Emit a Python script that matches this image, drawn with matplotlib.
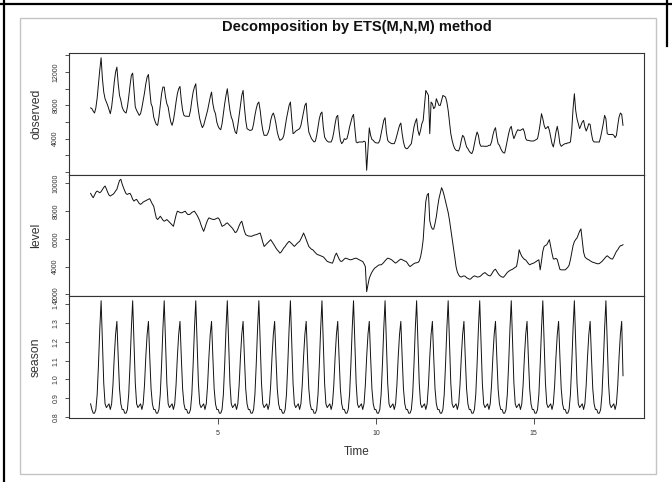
import numpy as np
import matplotlib
matplotlib.use("Agg")
import matplotlib.pyplot as plt
from matplotlib.lines import Line2D
from matplotlib.patches import Rectangle

# hourly data, frequency 24, first point is hour 23 of day 0
freq = 24
start = 1 - 1 / freq

observed = [
    7700,
    7600, 7300, 7080, 7700, 8900, 10600, 12300, 13720, 11200, 9600, 8800, 8400, 8000, 7500, 7000, 7800, 9200, 10800, 12000, 12600, 10600, 9200, 8600, 7800,
    7400, 7200, 7080, 7800, 9000, 10400, 11600, 11880, 9800, 7800, 7400, 7100, 6800, 7000, 7700, 8600, 9500, 10600, 11400, 11720, 9800, 8200, 7800, 6600,
    6100, 5700, 5600, 6600, 8000, 9400, 10200, 10200, 9000, 8200, 7800, 6800, 6000, 5600, 6200, 7200, 8400, 9400, 10000, 10280, 8600, 7400, 6800, 6700,
    6700, 6680, 6680, 7400, 8600, 9600, 10200, 10600, 8600, 7400, 6400, 5800, 5320, 5600, 6200, 6800, 7400, 8200, 9000, 9600, 8200, 7400, 7000, 6000,
    5500, 5200, 5080, 5800, 7000, 8200, 9200, 10000, 8600, 7400, 6600, 6200, 5400, 4800, 4600, 5600, 6800, 8000, 9200, 9800, 7800, 6200, 5200, 5100,
    5000, 5000, 5100, 5800, 6800, 7600, 8200, 8400, 7400, 6000, 5000, 4400, 4400, 4400, 4700, 5200, 6200, 6800, 7080, 6600, 5800, 4800, 4200, 3800,
    3900, 4000, 4400, 5400, 6400, 7200, 8000, 8400, 6400, 4600, 4700, 4900, 5000, 5100, 5200, 5600, 6400, 7200, 8000, 8280, 6200, 4800, 4400, 4000,
    3800, 3600, 3700, 4400, 5400, 6400, 7000, 7200, 5400, 4200, 3900, 3700, 3600, 3600, 3600, 4000, 4800, 5800, 6600, 6800, 5000, 3800, 3400, 3600,
    4000, 3900, 4000, 4600, 5400, 6000, 6600, 6920, 5200, 3600, 3500, 3600, 3600, 3600, 3600, 3700, 3600, 200, 2700, 5300, 4400, 3900, 3800, 3600,
    3500, 3480, 3480, 3800, 4600, 5400, 6200, 6520, 4800, 3800, 3600, 3500, 3400, 3400, 3400, 3800, 4400, 5000, 5600, 5880, 4600, 3600, 3000, 2800,
    2800, 3000, 3200, 3400, 4400, 5400, 6000, 6400, 5000, 4400, 5000, 5800, 6200, 8000, 9800, 9500, 9200, 4600, 8400, 8200, 7600, 7800, 8800, 8400,
    8000, 8000, 8600, 9200, 9100, 9000, 8400, 7400, 6000, 4600, 3800, 3200, 2800, 2600, 2560, 2520, 3000, 3800, 4400, 4200, 3600, 3000, 2800, 2500,
    2300, 2200, 2600, 3400, 4200, 4800, 4400, 3400, 3080, 3100, 3100, 3080, 3080, 3100, 3200, 3200, 3600, 4400, 5000, 5320, 4200, 3400, 3200, 2800,
    2500, 2300, 2280, 3000, 3800, 4600, 5200, 5480, 4600, 4000, 4400, 4800, 5080, 5000, 5000, 5100, 5200, 4800, 4000, 3800, 3800, 3750, 3720, 3720,
    3720, 3800, 3900, 4000, 4800, 5800, 7000, 6400, 5600, 5200, 5300, 5480, 5000, 4200, 3400, 3000, 3800, 4800, 5480, 4600, 3400, 3080, 3200, 3320,
    3400, 3400, 3500, 3500, 3600, 5000, 7600, 9400, 7400, 6400, 5800, 5200, 5600, 6000, 6200, 5400, 4920, 5300, 5800, 5700, 4600, 3800, 3600, 3600,
    3600, 3600, 3600, 4200, 5000, 5800, 6800, 6400, 4600, 4500, 4500, 4500, 4520, 4400, 4120, 4400, 5600, 6600, 7080, 6920, 5600,
]

level = [
    9275,
    9100, 8960, 9150, 9350, 9440, 9380, 9320, 9400, 9550, 9700, 9805, 9600, 9350, 9150, 9080, 9150, 9200, 9300, 9450, 9565, 9900, 10200, 10290, 9950,
    9685, 9450, 9250, 9200, 9250, 9275, 9100, 8850, 8720, 8800, 8840, 8700, 8550, 8480, 8550, 8650, 8700, 8750, 8800, 8850, 8890, 8700, 8500, 8355,
    7900, 7500, 7390, 7500, 7630, 7500, 7350, 7270, 7320, 7390, 7300, 7200, 7100, 7000, 6900, 7300, 7700, 7990, 7950, 7900, 7870, 7900, 7950, 7990,
    7850, 7750, 7750, 7800, 7900, 7950, 7990, 7850, 7700, 7510, 7300, 7000, 6750, 6540, 6800, 7100, 7350, 7510, 7470, 7430, 7400, 7390, 7430, 7480,
    7510, 7400, 7150, 6900, 6950, 7000, 7100, 7150, 7050, 6950, 6850, 6750, 6600, 6450, 6500, 6700, 6950, 7150, 7270, 6900, 6550, 6300, 6250, 6200,
    6200, 6180, 6200, 6250, 6280, 6300, 6340, 6380, 6420, 6100, 5750, 5450, 5550, 5650, 5750, 5850, 5940, 5800, 5650, 5500, 5335, 5200, 5100, 4970,
    5050, 5200, 5350, 5455, 5600, 5720, 5820, 5750, 5650, 5550, 5455, 5550, 5650, 5750, 5820, 6000, 6200, 6420, 6200, 5950, 5700, 5450, 5350, 5250,
    5215, 5100, 5000, 4900, 4850, 4820, 4780, 4740, 4700, 4600, 4480, 4370, 4340, 4300, 4270, 4250, 4500, 4800, 4970, 4750, 4550, 4400, 4370, 4450,
    4550, 4610, 4580, 4540, 4500, 4490, 4520, 4560, 4590, 4610, 4560, 4510, 4460, 4410, 4370, 4200, 4005, 2190, 2700, 3160, 3400, 3600, 3750, 3885,
    3950, 4030, 4100, 4130, 4130, 4200, 4300, 4420, 4520, 4610, 4580, 4540, 4490, 4400, 4320, 4250, 4320, 4400, 4480, 4540, 4500, 4450, 4400, 4370,
    4250, 4100, 4005, 4070, 4150, 4220, 4260, 4280, 4295, 4400, 4700, 5200, 5940, 7400, 8700, 9150, 9275, 7300, 6900, 6700, 6700, 7100, 7600, 8300,
    8900, 9300, 9685, 9450, 9100, 8700, 8300, 7900, 7350, 6700, 6050, 5455, 4700, 4000, 3600, 3400, 3280, 3250, 3300, 3330, 3300, 3200, 3150, 3100,
    3100, 3200, 3280, 3330, 3300, 3250, 3260, 3280, 3350, 3450, 3520, 3570, 3480, 3400, 3350, 3330, 3450, 3620, 3750, 3810, 3650, 3500, 3380, 3300,
    3250, 3230, 3330, 3450, 3580, 3660, 3720, 3770, 3810, 3880, 3950, 4005, 4500, 5215, 4950, 4750, 4620, 4520, 4480, 4350, 4220, 4130, 4180, 4220,
    4250, 4310, 4370, 4440, 4490, 3765, 4400, 5100, 5455, 5520, 5575, 5750, 5940, 5450, 4950, 4550, 4550, 4600, 4500, 4150, 3800, 3765, 3765, 3765,
    3765, 3850, 3950, 4100, 4500, 5000, 5500, 5800, 5950, 6060, 6300, 6550, 6715, 5900, 5050, 4700, 4600, 4530, 4490, 4420, 4360, 4310, 4295, 4250,
    4220, 4200, 4220, 4300, 4370, 4480, 4600, 4700, 4780, 4700, 4620, 4560, 4540, 4700, 4900, 5100, 5215, 5380, 5500, 5520, 5575,
]

season = [
    0.87,
    0.84, 0.82, 0.82, 0.84, 0.92, 1.08, 1.27, 1.42, 1.20, 0.98, 0.87, 0.85, 0.86, 0.87, 0.84, 0.87, 0.97, 1.12, 1.24, 1.31, 1.12, 0.95, 0.87, 0.84,
    0.84, 0.82, 0.82, 0.84, 0.92, 1.08, 1.27, 1.42, 1.20, 0.98, 0.87, 0.85, 0.86, 0.87, 0.84, 0.87, 0.97, 1.12, 1.24, 1.31, 1.12, 0.95, 0.87, 0.84,
    0.84, 0.82, 0.82, 0.84, 0.92, 1.08, 1.27, 1.42, 1.20, 0.98, 0.87, 0.85, 0.86, 0.87, 0.84, 0.87, 0.97, 1.12, 1.24, 1.31, 1.12, 0.95, 0.87, 0.84,
    0.84, 0.82, 0.82, 0.84, 0.92, 1.08, 1.27, 1.42, 1.20, 0.98, 0.87, 0.85, 0.86, 0.87, 0.84, 0.87, 0.97, 1.12, 1.24, 1.31, 1.12, 0.95, 0.87, 0.84,
    0.84, 0.82, 0.82, 0.84, 0.92, 1.08, 1.27, 1.42, 1.20, 0.98, 0.87, 0.85, 0.86, 0.87, 0.84, 0.87, 0.97, 1.12, 1.24, 1.31, 1.12, 0.95, 0.87, 0.84,
    0.84, 0.82, 0.82, 0.84, 0.92, 1.08, 1.27, 1.42, 1.20, 0.98, 0.87, 0.85, 0.86, 0.87, 0.84, 0.87, 0.97, 1.12, 1.24, 1.31, 1.12, 0.95, 0.87, 0.84,
    0.84, 0.82, 0.82, 0.84, 0.92, 1.08, 1.27, 1.42, 1.20, 0.98, 0.87, 0.85, 0.86, 0.87, 0.84, 0.87, 0.97, 1.12, 1.24, 1.31, 1.12, 0.95, 0.87, 0.84,
    0.84, 0.82, 0.82, 0.84, 0.92, 1.08, 1.27, 1.42, 1.20, 0.98, 0.87, 0.85, 0.86, 0.87, 0.84, 0.87, 0.97, 1.12, 1.24, 1.31, 1.12, 0.95, 0.87, 0.84,
    0.84, 0.82, 0.82, 0.84, 0.92, 1.08, 1.27, 1.42, 1.20, 0.98, 0.87, 0.85, 0.86, 0.87, 0.84, 0.87, 0.97, 1.12, 1.24, 1.31, 1.12, 0.95, 0.87, 0.84,
    0.84, 0.82, 0.82, 0.84, 0.92, 1.08, 1.27, 1.42, 1.20, 0.98, 0.87, 0.85, 0.86, 0.87, 0.84, 0.87, 0.97, 1.12, 1.24, 1.31, 1.12, 0.95, 0.87, 0.84,
    0.84, 0.82, 0.82, 0.84, 0.92, 1.08, 1.27, 1.42, 1.20, 0.98, 0.87, 0.85, 0.86, 0.87, 0.84, 0.87, 0.97, 1.12, 1.24, 1.31, 1.12, 0.95, 0.87, 0.84,
    0.84, 0.82, 0.82, 0.84, 0.92, 1.08, 1.27, 1.42, 1.20, 0.98, 0.87, 0.85, 0.86, 0.87, 0.84, 0.87, 0.97, 1.12, 1.24, 1.31, 1.12, 0.95, 0.87, 0.84,
    0.84, 0.82, 0.82, 0.84, 0.92, 1.08, 1.27, 1.42, 1.20, 0.98, 0.87, 0.85, 0.86, 0.87, 0.84, 0.87, 0.97, 1.12, 1.24, 1.31, 1.12, 0.95, 0.87, 0.84,
    0.84, 0.82, 0.82, 0.84, 0.92, 1.08, 1.27, 1.42, 1.20, 0.98, 0.87, 0.85, 0.86, 0.87, 0.84, 0.87, 0.97, 1.12, 1.24, 1.31, 1.12, 0.95, 0.87, 0.84,
    0.84, 0.82, 0.82, 0.84, 0.92, 1.08, 1.27, 1.42, 1.20, 0.98, 0.87, 0.85, 0.86, 0.87, 0.84, 0.87, 0.97, 1.12, 1.24, 1.31, 1.12, 0.95, 0.87, 0.84,
    0.84, 0.82, 0.82, 0.84, 0.92, 1.08, 1.27, 1.42, 1.20, 0.98, 0.87, 0.85, 0.86, 0.87, 0.84, 0.87, 0.97, 1.12, 1.24, 1.31, 1.12, 0.95, 0.87, 0.84,
    0.84, 0.82, 0.82, 0.84, 0.92, 1.08, 1.27, 1.42, 1.20, 0.98, 0.87, 0.85, 0.86, 0.87, 0.84, 0.87, 0.97, 1.12, 1.24, 1.31, 1.02,
]

panel_names = ["observed", "level", "season"]
obs_ticks = [0, 2000, 4000, 6000, 8000, 10000, 12000, 14000]
obs_tick_labels = ["", "", "4000", "", "8000", "", "12000", ""]
level_ticks = [2000, 4000, 6000, 8000, 10000]
level_tick_labels = ["2000", "4000", "6000", "8000", "10000"]
season_ticks = [0.8, 0.9, 1.0, 1.1, 1.2, 1.3, 1.4]
season_tick_labels = ["0.8", "0.9", "1.0", "1.1", "1.2", "1.3", "1.4"]
time_ticks = [5, 10, 15]
title = "Decomposition by ETS(M,N,M) method"

plt.rcParams["font.family"] = ["Liberation Sans", "DejaVu Sans"]

time = start + np.arange(len(observed)) / freq


def rlim(v):
    # R style 4% range extension
    lo, hi = min(v), max(v)
    pad = 0.04 * (hi - lo)
    return lo - pad, hi + pad


W, H = 672, 482
fig = plt.figure(figsize=(W / 100, H / 100), dpi=100)
fig.patch.set_facecolor("white")

# panel box in pixels
px_left, px_right = 69.3, 644.3
px_top, px_bottom = 53.3, 417.7
ph = (px_bottom - px_top) / 3
dark = "#333333"

series = [observed, level, season]
ticks = [obs_ticks, level_ticks, season_ticks]
tick_labels = [obs_tick_labels, level_tick_labels, season_tick_labels]
axes = []
for i in range(3):
    ax = fig.add_axes([px_left / W, 1 - (px_top + ph * (i + 1)) / H,
                       (px_right - px_left) / W, ph / H])
    ax.plot(time, series[i], color="#111111", lw=0.7)
    ax.set_xlim(rlim(time))
    ax.set_ylim(rlim(series[i]))
    ax.set_yticks(ticks[i])
    ax.set_yticklabels(tick_labels[i])
    for lab in ax.get_yticklabels():
        lab.set_rotation(90)
        lab.set_va("center")
    ax.tick_params(axis="y", direction="out", length=3.2, width=0.6, color=dark,
                   labelsize=5, pad=4, labelcolor=dark)
    for s in ax.spines.values():
        s.set_color(dark)
        s.set_linewidth(0.8)
    if i < 2:
        ax.set_xticks([])
    else:
        ax.set_xticks(time_ticks)
        ax.tick_params(axis="x", direction="out", length=4, width=0.6, color=dark,
                       labelsize=5, pad=4.5, labelcolor=dark)
    fig.text(36 / W, 1 - (px_top + ph * (i + 0.5)) / H, panel_names[i],
             rotation=90, ha="center", va="center", fontsize=8.8, color=dark)
    axes.append(ax)

cx = (px_left + px_right) / 2 / W
fig.text(cx, 1 - 27 / H, title, ha="center", va="center",
         fontsize=10.5, fontweight="bold", color="#111111")
fig.text(cx, 1 - 451.7 / H, "Time", ha="center", va="center",
         fontsize=8.5, color=dark)

# page borders around the embedded picture
fig.add_artist(Line2D([0, 1], [1 - 4 / H, 1 - 4 / H], color="black", lw=1.6,
                      transform=fig.transFigure))
fig.add_artist(Line2D([4 / W, 4 / W], [0, 1], color="black", lw=1.6,
                      transform=fig.transFigure))
fig.add_artist(Line2D([667 / W, 667 / W], [1, 1 - 46 / H], color="black", lw=1.6,
                      transform=fig.transFigure))
fig.add_artist(Rectangle((20 / W, 1 - 474 / H), (656 - 20) / W, (474 - 18) / H,
                         fill=False, edgecolor="#c4c4c4", lw=1.0,
                         transform=fig.transFigure))

fig.savefig("out.png", dpi=100)
